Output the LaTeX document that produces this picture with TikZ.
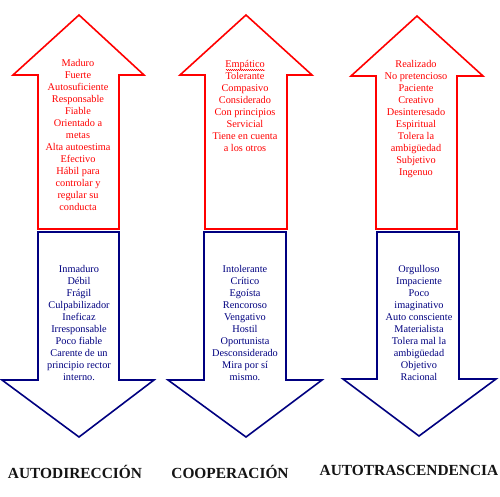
\documentclass[tikz,border=0pt]{standalone}
\usepackage{fontspec}
\setmainfont{Liberation Serif}
\usetikzlibrary{decorations.pathmorphing}
\definecolor{upred}{RGB}{255,0,0}
\definecolor{downblue}{RGB}{0,0,128}
\definecolor{labgray}{RGB}{20,20,20}
\begin{document}
\begin{tikzpicture}[x=1pt,y=-1pt,
  uparrow/.style={draw=upred,line width=1.6pt,line join=miter,fill=white},
  downarrow/.style={draw=downblue,line width=1.6pt,line join=miter,fill=white},
  redtext/.style={text=upred,font=\fontsize{10.3}{12}\selectfont,align=center,anchor=north,inner sep=0pt},
  bluetext/.style={text=downblue,font=\fontsize{10.3}{12}\selectfont,align=center,anchor=north,inner sep=0pt},
  label/.style={text=labgray,font=\fontsize{15.4}{18}\selectfont\bfseries,inner sep=0pt}]
\useasboundingbox[fill=white] (0,0) rectangle (500,496);
% up arrows
\draw[uparrow] (38,229) -- (38,75) -- (13,75) -- (79,15) -- (144,75) -- (119,75) -- (119,229) -- cycle;
\draw[uparrow] (205,229) -- (205,75) -- (180,75) -- (246,15) -- (312,75) -- (287,75) -- (287,229) -- cycle;
\draw[uparrow] (376,229) -- (376,76) -- (351,76) -- (417,16) -- (483,76) -- (457,76) -- (457,229) -- cycle;
% down arrows
\draw[downarrow] (38,232) -- (119,232) -- (119,380) -- (154,380) -- (79,437) -- (2,380) -- (38,380) -- cycle;
\draw[downarrow] (204,232) -- (286,232) -- (286,380) -- (322,380) -- (246,437) -- (168,380) -- (204,380) -- cycle;
\draw[downarrow] (377,232) -- (459,232) -- (459,379) -- (496,379) -- (419,436) -- (343,379) -- (377,379) -- cycle;
% texts
\node[redtext] (t1) at (78,59) {Maduro\\Fuerte\\Autosuficiente\\Responsable\\Fiable\\Orientado a\\metas\\Alta autoestima\\Efectivo\\Hábil para\\controlar y\\regular su\\conducta};
\node[redtext] (t2) at (245,60) {Empático\\Tolerante\\Compasivo\\Considerado\\Con principios\\Servicial\\Tiene en cuenta\\a los otros};
\draw[upred,line width=0.5pt,decorate,decoration={snake,amplitude=0.6pt,segment length=2pt}] (226,70) -- (265,70);
\node[redtext] (t3) at (416,60) {Realizado\\No pretencioso\\Paciente\\Creativo\\Desinteresado\\Espiritual\\Tolera la\\ambigüedad\\Subjetivo\\Ingenuo};
\node[bluetext] (b1) at (79,265) {Inmaduro\\Débil\\Frágil\\Culpabilizador\\Ineficaz\\Irresponsable\\Poco fiable\\Carente de un\\principio rector\\interno.};
\node[bluetext] (b2) at (245,265) {Intolerante\\Crítico\\Egoísta\\Rencoroso\\Vengativo\\Hostil\\Oportunista\\Desconsiderado\\Mira por sí\\mismo.};
\node[bluetext] (b3) at (419,265) {Orgulloso\\Impaciente\\Poco\\imaginativo\\Auto consciente\\Materialista\\Tolera mal la\\ambigüedad\\Objetivo\\Racional};
% labels
\node[label] (l1) at (75,472) {AUTODIRECCIÓN};
\node[label] (l2) at (230,472) {COOPERACIÓN};
\node[label] (l3) at (409,470) {AUTOTRASCENDENCIA};
\end{tikzpicture}
\end{document}
